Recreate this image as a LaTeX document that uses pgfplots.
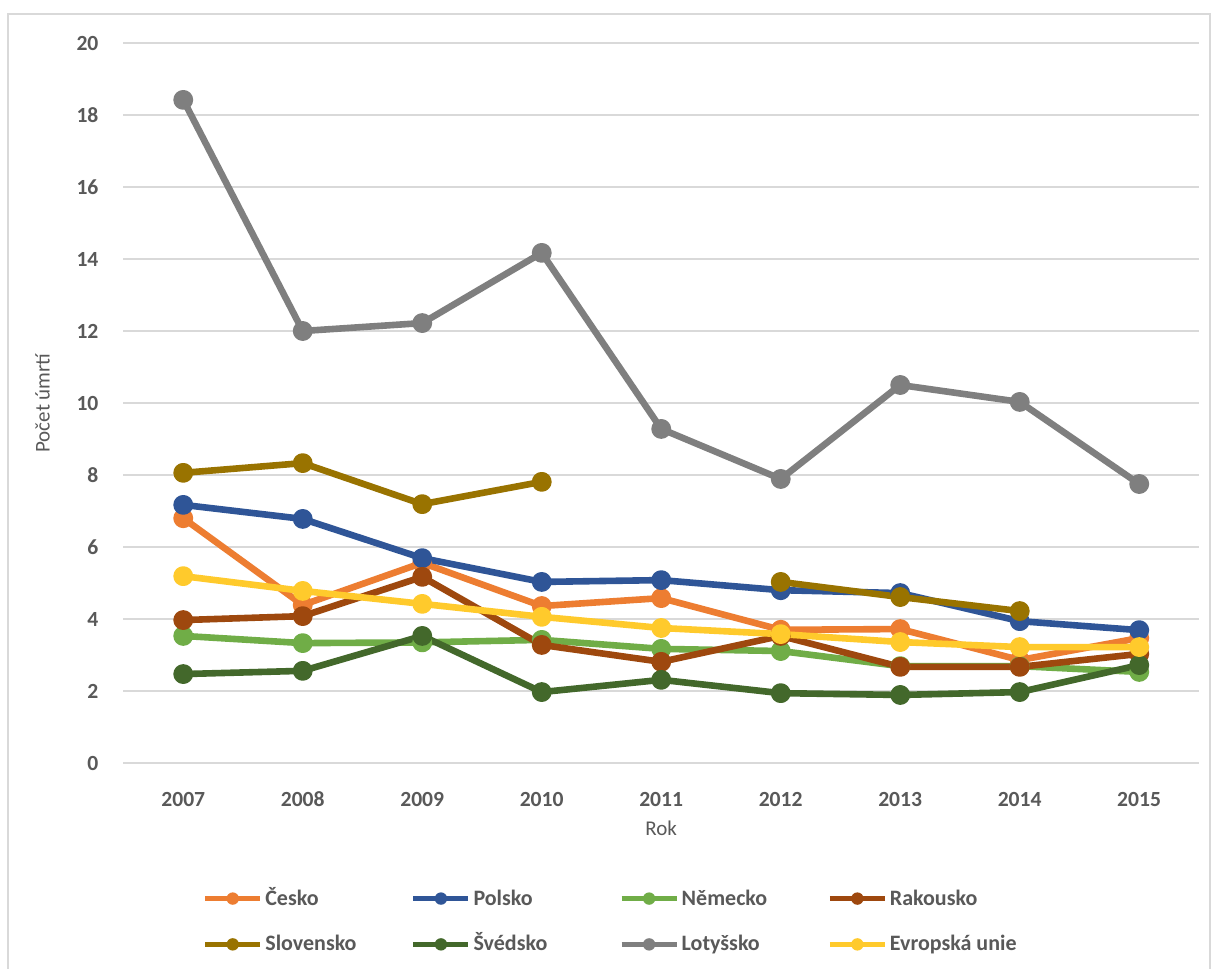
\documentclass[border=0pt]{standalone}
\usepackage{pgfplots}
\pgfplotsset{compat=1.18}
\usepackage{fontspec}
\setmainfont{Carlito}
\definecolor{txt}{HTML}{595959}
\definecolor{gridc}{HTML}{D9D9D9}
\definecolor{cCZ}{HTML}{ED7D31}
\definecolor{cPL}{HTML}{2F5597}
\definecolor{cDE}{HTML}{70AD47}
\definecolor{cAT}{HTML}{9E480E}
\definecolor{cSK}{HTML}{997300}
\definecolor{cSE}{HTML}{43682B}
\definecolor{cLV}{HTML}{7F7F7F}
\definecolor{cEU}{HTML}{FFCA2C}
\begin{document}
\begin{tikzpicture}
\useasboundingbox (0,0) rectangle (608pt,484.5pt);
\fill[white] (0,0) rectangle (608pt,484.5pt);
\draw[gridc, line width=0.6pt] (4pt,-2pt) -- (4pt,477.5pt) -- (605pt,477.5pt) -- (605pt,-2pt);
\begin{axis}[
  at={(61.75pt,103pt)}, anchor=south west,
  scale only axis, width=537.75pt, height=360pt,
  xmin=2006.5, xmax=2015.5, ymin=0, ymax=20,
  xtick={2007,...,2015}, ytick={0,2,...,20},
  axis line style={draw=none},
  major tick length=0pt,
  xmajorgrids=false, ymajorgrids=true,
  y grid style={gridc, line width=0.9pt},
  /pgf/number format/assume math mode=true,
  xticklabel={\pgfmathprintnumber[1000 sep=]{\tick}},
  yticklabel={\pgfmathprintnumber{\tick}},
  ticklabel style={font=\fontsize{10.8}{12}\selectfont\bfseries, text=txt},
  xticklabel style={yshift=-11pt, text depth=0pt},
  yticklabel style={xshift=-9pt},
  xlabel={Rok}, ylabel={Počet úmrtí},
  label style={font=\fontsize{10.5}{12}\selectfont, text=txt},
  xlabel style={at={(axis description cs:0.5,0)}, anchor=center, yshift=-32.5pt},
  ylabel style={at={(axis description cs:-0.0753,0.5)}, anchor=center},
  unbounded coords=jump,
  every axis plot/.append style={line width=3.3pt, mark=*, mark size=3.3pt, line join=round},
  legend columns=4,
  legend style={at={(axis description cs:0.0735,-0.169)}, anchor=north west, draw=none, fill=none,
    inner sep=0pt, outer sep=0pt,
    font=\fontsize{11}{13}\selectfont\bfseries, text=txt,
    row sep=9pt, column sep=0pt,
    nodes={text width=71.5pt, align=flush left, inner sep=1.2pt, text height=9pt, text depth=2.5pt}},
  legend image code/.code={
    \draw[#1, line width=2.7pt, mark=none] (0pt,0pt) -- (27.5pt,0pt);
    \fill[#1, draw=none] (13.75pt,0pt) circle (3.1pt);
  },
]
\addplot[cCZ, mark options={fill=cCZ, draw=cCZ}] coordinates {(2007,6.80)(2008,4.39)(2009,5.56)(2010,4.36)(2011,4.58)(2012,3.70)(2013,3.72)(2014,2.86)(2015,3.47)};
\addlegendentry{Česko}
\addplot[cPL, mark options={fill=cPL, draw=cPL}] coordinates {(2007,7.17)(2008,6.78)(2009,5.69)(2010,5.03)(2011,5.08)(2012,4.80)(2013,4.72)(2014,3.94)(2015,3.69)};
\addlegendentry{Polsko}
\addplot[cDE, mark options={fill=cDE, draw=cDE}] coordinates {(2007,3.53)(2008,3.33)(2009,3.35)(2010,3.42)(2011,3.17)(2012,3.11)(2013,2.69)(2014,2.69)(2015,2.53)};
\addlegendentry{Německo}
\addplot[cAT, mark options={fill=cAT, draw=cAT}] coordinates {(2007,3.97)(2008,4.08)(2009,5.17)(2010,3.28)(2011,2.81)(2012,3.53)(2013,2.67)(2014,2.67)(2015,3.03)};
\addlegendentry{Rakousko}
\addplot[cSK, mark options={fill=cSK, draw=cSK}] coordinates {(2007,8.06)(2008,8.33)(2009,7.19)(2010,7.81)(2011,nan)(2012,5.03)(2013,4.61)(2014,4.22)(2015,nan)};
\addlegendentry{Slovensko}
\addplot[cSE, mark options={fill=cSE, draw=cSE}] coordinates {(2007,2.47)(2008,2.56)(2009,3.53)(2010,1.97)(2011,2.31)(2012,1.94)(2013,1.89)(2014,1.97)(2015,2.72)};
\addlegendentry{Švédsko}
\addplot[cLV, mark options={fill=cLV, draw=cLV}] coordinates {(2007,18.42)(2008,12.00)(2009,12.22)(2010,14.17)(2011,9.28)(2012,7.89)(2013,10.50)(2014,10.03)(2015,7.75)};
\addlegendentry{Lotyšsko}
\addplot[cEU, mark options={fill=cEU, draw=cEU}] coordinates {(2007,5.19)(2008,4.78)(2009,4.42)(2010,4.06)(2011,3.75)(2012,3.58)(2013,3.36)(2014,3.22)(2015,3.22)};
\addlegendentry{Evropská unie}
\end{axis}
\end{tikzpicture}
\end{document}
